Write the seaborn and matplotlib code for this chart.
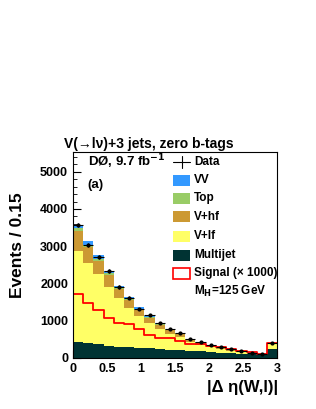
import numpy as np
import pandas as pd
import matplotlib
matplotlib.use("Agg")
import matplotlib.pyplot as plt
import seaborn as sns
from matplotlib.patches import Rectangle
from matplotlib.lines import Line2D
from matplotlib.ticker import MultipleLocator

# ---- data ----
bin_width = 0.15
x_range = (0.0, 3.0)
bin_centers = np.arange(20) * bin_width + bin_width / 2

multijet = [430, 390, 360, 320, 300, 280, 260, 250, 230, 215, 200, 185, 170, 150, 135, 120, 110, 100, 90, 230]
v_lf = [2440, 2170, 1880, 1590, 1300, 1050, 870, 680, 540, 435, 360, 245, 180, 140, 95, 70, 40, 20, 5, 130]
v_hf = [530, 410, 360, 310, 250, 210, 160, 150, 120, 100, 80, 60, 50, 40, 30, 25, 20, 15, 10, 30]
top = [90, 70, 60, 50, 40, 35, 30, 25, 20, 15, 15, 10, 10, 8, 6, 5, 4, 3, 2, 8]
vv = [80, 110, 90, 70, 50, 45, 35, 30, 25, 20, 15, 12, 10, 8, 6, 5, 4, 3, 2, 8]
signal_x1000 = [1700, 1470, 1270, 1080, 930, 900, 780, 600, 530, 520, 440, 380, 370, 310, 275, 240, 180, 150, 100, 400]
data_counts = [3570, 3040, 2720, 2330, 1900, 1610, 1310, 1150, 930, 775, 670, 500, 410, 340, 280, 225, 175, 140, 110, 405]

components = ["VV", "Top", "V+hf", "V+lf", "Multijet"]
comp_values = {"VV": vv, "Top": top, "V+hf": v_hf, "V+lf": v_lf, "Multijet": multijet}
colors = {"VV": "#3399ff", "Top": "#99cc66", "V+hf": "#cc9933", "V+lf": "#ffff66", "Multijet": "#003333"}

rows = []
for c in components:
    for x, w in zip(bin_centers, comp_values[c]):
        rows.append({"x": float(x), "w": float(w), "comp": c})
df = pd.DataFrame(rows)

sns.set_style("ticks")
plt.rcParams["font.family"] = ["Liberation Sans", "DejaVu Sans"]
plt.rcParams["font.weight"] = "bold"
plt.rcParams["mathtext.default"] = "bf"
for k in ["text.color", "axes.labelcolor", "xtick.color", "ytick.color", "axes.edgecolor"]:
    plt.rcParams[k] = "black"

fig = plt.figure(figsize=(3.16, 4.09), dpi=100)
ax = fig.add_axes([0.231, 0.1254, 0.646, 0.5037])

sns.histplot(data=df, x="x", weights="w", hue="comp", hue_order=components,
             binwidth=bin_width, binrange=x_range, multiple="stack", element="bars",
             palette=colors, linewidth=0, alpha=1, ax=ax, legend=False)

sig_df = pd.DataFrame({"x": bin_centers, "w": np.array(signal_x1000, dtype=float)})
sns.histplot(data=sig_df, x="x", weights="w", binwidth=bin_width, binrange=x_range,
             element="step", fill=False, color="#ff0000", linewidth=1.3, ax=ax, legend=False)

data_arr = np.array(data_counts, dtype=float)
ax.errorbar(bin_centers, data_arr, xerr=bin_width / 2, yerr=np.sqrt(data_arr), fmt="o",
            color="black", markersize=2, elinewidth=0.8, capsize=0, zorder=5)

ax.set_xlim(0, 3)
ax.set_ylim(0, 5540)
ax.xaxis.set_major_locator(MultipleLocator(0.5))
ax.xaxis.set_minor_locator(MultipleLocator(0.1))
ax.yaxis.set_major_locator(MultipleLocator(1000))
ax.yaxis.set_minor_locator(MultipleLocator(200))
ax.tick_params(which="both", direction="in", top=False, right=False, labelsize=9,
               colors="black")
ax.tick_params(which="major", length=6)
ax.tick_params(which="minor", length=3)
ax.set_xticks([0, 0.5, 1, 1.5, 2, 2.5, 3])
ax.set_xticklabels(["0", "0.5", "1", "1.5", "2", "2.5", "3"], fontweight="bold")
for lab in ax.get_yticklabels():
    lab.set_fontweight("bold")
ax.set_xlabel("")
ax.set_ylabel("")
for s in ax.spines.values():
    s.set_linewidth(0.8)
    s.set_color("black")

# axis titles
fig.text(0.880, 0.052, "|Δ η(W,l)|", ha="right", va="center",
         fontsize=12, fontweight="bold")
fig.text(0.055, 0.40, "Events / 0.15", rotation=90, ha="center", va="center",
         fontsize=12.5, fontweight="bold")
fig.text(0.472, 0.648, "V(→lν)+3 jets, zero b-tags", ha="center",
         va="center", fontsize=10, fontweight="bold")

# annotations
fig.text(0.280, 0.604, r"DØ, 9.7 fb$^{-1}$", ha="left", va="center",
         fontsize=9.5, fontweight="bold")
fig.text(0.278, 0.548, "(a)", ha="left", va="center", fontsize=9.5, fontweight="bold")

# legend (manual, ROOT style)
lx0, lw, lh = 173 / 316, 17 / 316, 11 / 409
tx = 194 / 316
entries_y = [162, 180, 198, 217, 236, 255, 273]
labels = ["Data", "VV", "Top", "V+hf", "V+lf", "Multijet", "Signal (× 1000)"]
for i, (yy, lab) in enumerate(zip(entries_y, labels)):
    yf = 1 - yy / 409
    if i == 0:
        fig.add_artist(Line2D([lx0, lx0 + lw], [yf, yf], color="black", lw=0.8))
        fig.add_artist(Line2D([lx0 + lw / 2] * 2, [yf - lh / 2, yf + lh / 2], color="black", lw=0.8))
    elif i == 6:
        fig.add_artist(Rectangle((lx0, yf - lh / 2), lw, lh, facecolor="white",
                                 edgecolor="#ff0000", lw=1.2))
    else:
        fig.add_artist(Rectangle((lx0, yf - lh / 2), lw, lh, facecolor=colors[components[i - 1]],
                                 edgecolor="none"))
    fig.text(tx, yf, lab, ha="left", va="center", fontsize=8.5, fontweight="bold")
fig.text(tx, 1 - 291 / 409, r"M$_{H}$=125 GeV", ha="left", va="center",
         fontsize=8.5, fontweight="bold")

fig.savefig("out.png", dpi=100)
